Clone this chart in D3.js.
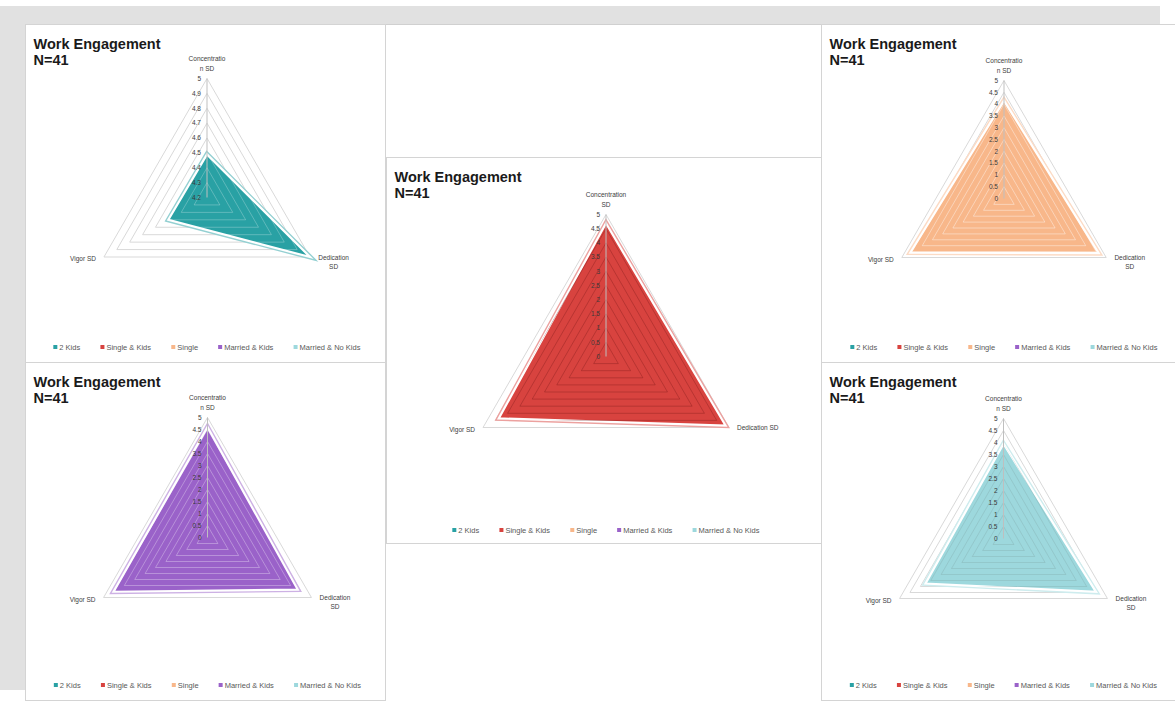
<!DOCTYPE html>
<html>
<head>
<meta charset="utf-8">
<script src="https://cdn.jsdelivr.net/npm/d3@7"></script>
<style>
  body { margin: 0; background: #fff; font-family: "Liberation Sans", Arial, sans-serif; }
</style>
</head>
<body>
<div id="chart"></div>
<script>
// categories (radar axes) and series
const axisNames = ["Concentration SD", "Dedication SD", "Vigor SD"];
const seriesNames = ["2 Kids", "Single & Kids", "Single", "Married & Kids", "Married & No Kids"];
const seriesColors = ["#29a1a4", "#d8433f", "#f8b78a", "#9a62c9", "#9dd8dd"];

// values per series, in axis order: Concentration, Dedication, Vigor
const twoKids = [4.49, 5.0, 4.5];
const singleKids = [4.69, 4.86, 4.36];
const single = [4.15, 4.63, 4.58];
const marriedKids = [4.6, 4.34, 4.52];
const marriedNoKids = [3.95, 4.45, 3.75];

// tick labels of the value axis
const fineTicks = [4.2, 4.3, 4.4, 4.5, 4.6, 4.7, 4.8, 4.9, 5];
const wideTicks = [0, 0.5, 1, 1.5, 2, 2.5, 3, 3.5, 4, 4.5, 5];

// axis label text, wrapped as in the picture
const smallLabels = [["Concentratio", "n SD"], ["Dedication", "SD"], ["Vigor SD"]];
const bigLabels = [["Concentration", "SD"], ["Dedication SD"], ["Vigor SD"]];

const svg = d3.select("#chart").append("svg")
  .attr("width", 1175)
  .attr("height", 702);

// sheet background
svg.append("rect").attr("x", 0).attr("y", 0).attr("width", 1175).attr("height", 702).attr("fill", "#fff");
svg.append("rect").attr("x", 0).attr("y", 6).attr("width", 26).attr("height", 684).attr("fill", "#e1e1e1");
svg.append("rect").attr("x", 10).attr("y", 6).attr("width", 1150).attr("height", 19).attr("fill", "#e1e1e1");

// empty chart behind the middle one
svg.append("rect").attr("x", 385.5).attr("y", 24.5).attr("width", 436).attr("height", 140)
  .attr("fill", "#fff").attr("stroke", "#d0d0d0");

let panels = [
  {x: 25.5, y: 24.5, w: 360, h: 338, cx: 181.5, cy: 173, R: 119, data: twoKids, s: 0, ticks: fineTicks, labels: smallLabels, gridOver: "rgba(255,255,255,0.25)"},
  {x: 25.5, y: 362.5, w: 360, h: 338, cx: 182, cy: 175, R: 120, data: marriedKids, s: 3, ticks: wideTicks, labels: smallLabels, gridOver: "rgba(255,255,255,0.3)"},
  {x: 821.5, y: 24.5, w: 360, h: 338, cx: 182.5, cy: 174, R: 118, data: single, s: 2, ticks: wideTicks, labels: smallLabels, gridOver: "rgba(255,255,255,0.4)"},
  {x: 821.5, y: 362.5, w: 360, h: 338, cx: 182, cy: 176, R: 120, data: marriedNoKids, s: 4, ticks: wideTicks, labels: smallLabels, gridOver: "rgba(120,150,150,0.25)"},
  {x: 386.5, y: 157.5, w: 435, h: 386, cx: 219.5, cy: 199, R: 142, data: singleKids, s: 1, ticks: wideTicks, labels: bigLabels, gridOver: "rgba(110,20,20,0.3)"}
];

let angle = i => i * 2 * Math.PI / axisNames.length;

panels.forEach(p => {
  let g = svg.append("g").attr("transform", "translate(" + p.x + "," + p.y + ")");

  g.append("rect")
    .attr("width", p.w)
    .attr("height", p.h)
    .attr("fill", "#fff")
    .attr("stroke", "#d4d4d4");

  let plot = g.append("g").attr("transform", "translate(" + p.cx + "," + p.cy + ")");

  let r = d3.scaleLinear()
    .domain(d3.extent(p.ticks))
    .range([0, p.R]);

  let ring = d3.lineRadial()
    .angle((d, i) => angle(i))
    .radius(d => r(d))
    .curve(d3.curveLinearClosed);

  let rings = p.ticks.slice(1);

  // grid rings
  plot.selectAll("path.ring")
    .data(rings)
    .join("path")
    .attr("class", "ring")
    .attr("d", t => ring(axisNames.map(() => t)))
    .attr("fill", "none")
    .attr("stroke", "#d9d9d9")
    .attr("stroke-width", 1);

  let color = seriesColors[p.s];
  let light = d3.interpolateRgb(color, "#fff")(0.5);

  // series area
  plot.append("path")
    .attr("d", ring(p.data))
    .attr("fill", "none")
    .attr("stroke", light)
    .attr("stroke-width", 5)
    .attr("stroke-linejoin", "miter");

  plot.append("path")
    .attr("d", ring(p.data))
    .attr("fill", color)
    .attr("stroke", "#fff")
    .attr("stroke-width", 2.2)
    .attr("stroke-linejoin", "miter");

  // grid showing through the fill
  let clipId = "clip" + p.s;
  g.append("clipPath").attr("id", clipId)
    .append("path").attr("d", ring(p.data));

  plot.append("g").attr("clip-path", "url(#" + clipId + ")")
    .selectAll("path")
    .data(rings)
    .join("path")
    .attr("d", t => ring(axisNames.map(() => t)))
    .attr("fill", "none")
    .attr("stroke", p.gridOver)
    .attr("stroke-width", 1);

  // value axis line
  plot.append("line")
    .attr("x1", 0).attr("y1", 0)
    .attr("x2", 0).attr("y2", -p.R)
    .attr("stroke", "#bfbfbf")
    .attr("stroke-width", 1);

  // value tick labels
  plot.selectAll("text.tick")
    .data(p.ticks)
    .join("text")
    .attr("class", "tick")
    .attr("x", -6)
    .attr("y", t => -r(t))
    .attr("dy", "0.35em")
    .attr("text-anchor", "end")
    .attr("font-size", 6.5)
    .attr("fill", "#3a3a3a")
    .text(t => t);

  // category labels
  axisNames.forEach((name, i) => {
    let a = angle(i);
    let vx = p.R * Math.sin(a);
    let vy = -p.R * Math.cos(a);
    let lines = p.labels[i];
    let txt = plot.append("text")
      .attr("font-size", 6.5)
      .attr("fill", "#404040");
    if (i === 0) {
      txt.attr("text-anchor", "middle");
      lines.forEach((l, k) => {
        txt.append("tspan").attr("x", 0).attr("y", vy - 8 - (lines.length - 1 - k) * 9.5).text(l);
      });
    } else if (i === 1) {
      txt.attr("text-anchor", "start");
      lines.forEach((l, k) => {
        txt.append("tspan").attr("x", vx + 8).attr("y", vy + 2.5 + k * 9).text(l);
      });
      if (lines.length > 1) {
        let wd = txt.node().getBBox().width;
        txt.attr("text-anchor", "middle").selectAll("tspan").attr("x", vx + 8 + wd / 2);
      }
    } else {
      txt.attr("text-anchor", "end");
      lines.forEach((l, k) => {
        txt.append("tspan").attr("x", vx - 8).attr("y", vy + 4 + k * 9).text(l);
      });
    }
  });

  // title
  let title = g.append("text")
    .attr("font-size", 14.5)
    .attr("font-weight", "bold")
    .attr("fill", "#1a1a1a");
  title.append("tspan").attr("x", 8).attr("y", 24).text("Work Engagement");
  title.append("tspan").attr("x", 8).attr("y", 40).text("N=41");

  // legend
  let legend = g.append("g");
  let items = legend.selectAll("g")
    .data(seriesNames)
    .join("g");
  items.append("rect")
    .attr("width", 4)
    .attr("height", 4)
    .attr("y", -4.5)
    .attr("fill", (d, i) => seriesColors[i]);
  items.append("text")
    .attr("x", 6)
    .attr("font-size", 7.5)
    .attr("fill", "#595959")
    .text(d => d);
  let gap = 20;
  let xPos = 0;
  items.each(function() {
    let wd = this.getBBox().width;
    d3.select(this).attr("transform", "translate(" + xPos + ",0)");
    xPos += wd + gap;
  });
  let total = xPos - gap;
  let legendY = p.h - (p.s === 1 ? 11 : 13);
  legend.attr("transform", "translate(" + (p.cx - total / 2) + "," + legendY + ")");
});
</script>
</body>
</html>
